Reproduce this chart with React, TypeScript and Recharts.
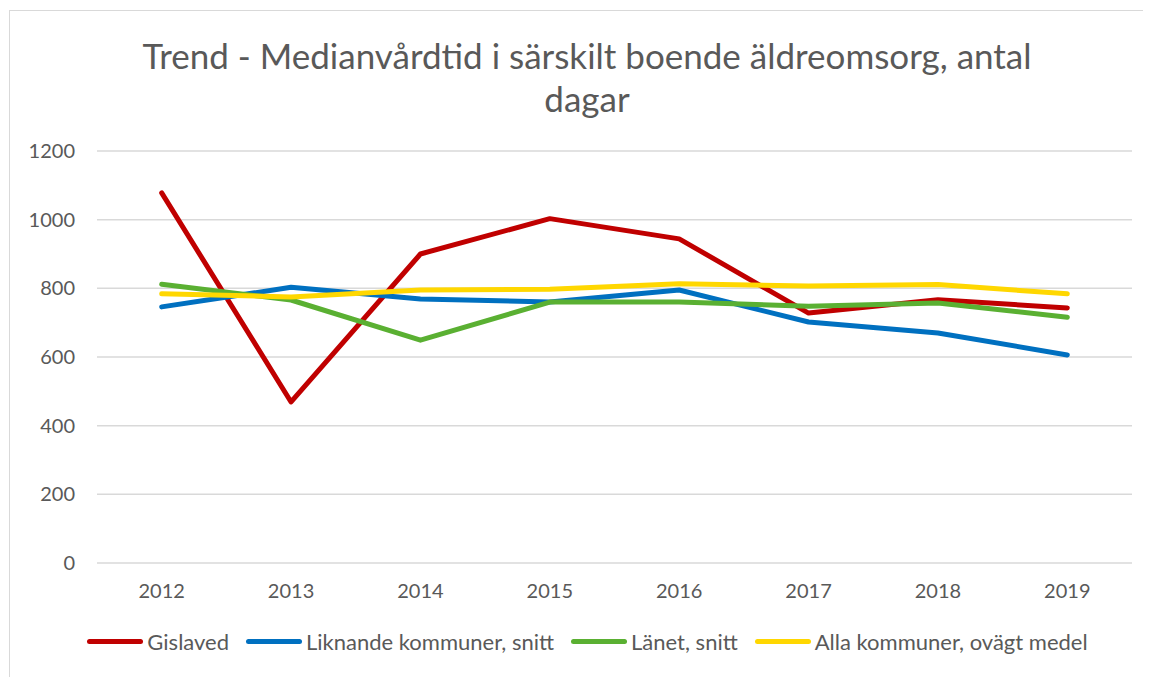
import { LineChart, Line, XAxis, YAxis, CartesianGrid } from "recharts";

/* ---------- DATA ---------- */

const years = ["2012", "2013", "2014", "2015", "2016", "2017", "2018", "2019"];

const gislaved = [1078, 469, 900, 1003, 944, 728, 767, 743];
const liknande = [746, 803, 769, 760, 795, 702, 670, 606];
const lanet = [812, 766, 649, 760, 760, 748, 757, 716];
const allaKommuner = [784, 775, 795, 797, 813, 807, 811, 784];

const yTicks = [0, 200, 400, 600, 800, 1000, 1200];

const seriesList = [
  { key: "gislaved", name: "Gislaved", color: "#C00000", values: gislaved },
  { key: "liknande", name: "Liknande kommuner, snitt", color: "#0070C0", values: liknande },
  { key: "lanet", name: "Länet, snitt", color: "#5AB032", values: lanet },
  { key: "alla", name: "Alla kommuner, ovägt medel", color: "#FFD700", values: allaKommuner }
];

const chartData = years.map((year, i) => {
  const row: any = { year };
  seriesList.forEach((s) => {
    row[s.key] = s.values[i];
  });
  return row;
});

const FONT = "Lato, 'Open Sans', sans-serif";
const TEXT_COLOR = "#595959";

/* ---------- LEGEND ---------- */

function ChartLegend() {
  return (
    <div
      style={{
        position: "absolute",
        left: 0,
        width: 1176,
        top: 620,
        display: "flex",
        justifyContent: "center",
        fontFamily: FONT,
        fontSize: 22,
        color: TEXT_COLOR
      }}
    >
      {seriesList.map((s) => (
        <div
          key={s.key}
          style={{ display: "flex", alignItems: "center", marginRight: 17 }}
        >
          <div
            style={{
              width: 56,
              height: 5,
              borderRadius: 3,
              background: s.color,
              marginRight: 4
            }}
          />
          <span>{s.name}</span>
        </div>
      ))}
    </div>
  );
}

/* ---------- MAIN ---------- */

export default function App() {
  return (
    <div style={{ position: "relative", width: 1143, height: 669 }}>
      {/* FRAME */}
      <div
        style={{
          position: "absolute",
          left: 1,
          top: 2,
          width: 1133,
          height: 700,
          border: "1px solid #d9d9d9"
        }}
      />

      {/* TITLE */}
      <div
        style={{
          position: "absolute",
          left: 0,
          width: 1158,
          top: 26,
          textAlign: "center",
          fontFamily: FONT,
          fontSize: 35,
          lineHeight: "43px",
          color: TEXT_COLOR
        }}
      >
        Trend - Medianvårdtid i särskilt boende äldreomsorg, antal
        <br />
        dagar
      </div>

      {/* CHART */}
      <div style={{ position: "absolute", left: 0, top: 0 }}>
        <LineChart
          width={1143}
          height={669}
          data={chartData}
          margin={{ top: 143, right: 19, left: 0, bottom: 84 }}
        >
          <CartesianGrid
            vertical={false}
            stroke="#d9d9d9"
            strokeWidth={1.5}
          />

          <XAxis
            dataKey="year"
            scale="band"
            height={30}
            axisLine={false}
            tickLine={false}
            tickMargin={15}
            tick={{ fill: TEXT_COLOR, fontSize: 20, fontFamily: FONT }}
          />

          <YAxis
            width={89}
            domain={[0, 1200]}
            ticks={yTicks}
            axisLine={false}
            tickLine={false}
            tickMargin={16}
            tick={{ fill: TEXT_COLOR, fontSize: 20, fontFamily: FONT }}
          />

          {seriesList.map((s) => (
            <Line
              key={s.key}
              dataKey={s.key}
              name={s.name}
              type="linear"
              stroke={s.color}
              strokeWidth={5}
              strokeLinecap="round"
              strokeLinejoin="round"
              dot={false}
              activeDot={false}
              isAnimationActive={false}
            />
          ))}
        </LineChart>
      </div>

      <ChartLegend />
    </div>
  );
}
